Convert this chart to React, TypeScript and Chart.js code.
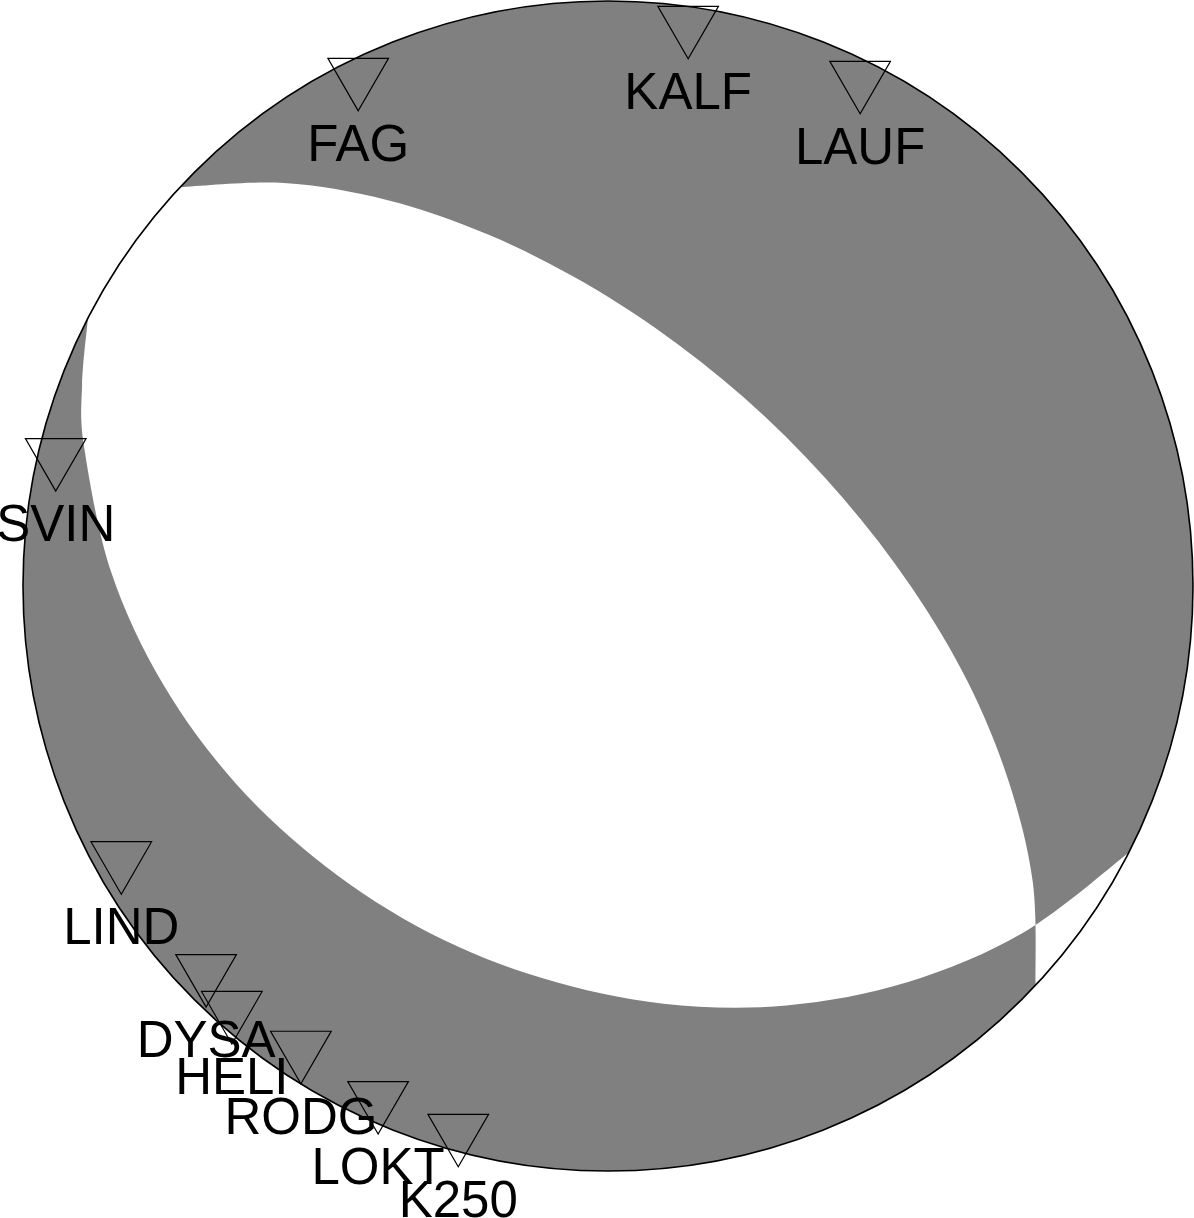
import { useEffect, useRef } from "react";
import { Chart, registerables } from "chart.js";

Chart.register(...registerables);

// Stations (projected position on the unit focal sphere, lower hemisphere)
const stationNames = ["FAG", "KALF", "LAUF", "SVIN", "LIND", "DYSA", "HELI", "RODG", "LOKT", "K250"];
const stationX = [-0.427, 0.137, 0.431, -0.944, -0.832, -0.687, -0.643, -0.525, -0.393, -0.256];
const stationY = [0.872, 0.961, 0.867, 0.222, -0.467, -0.66, -0.723, -0.791, -0.877, -0.933];

// Nodal plane 1 trace (unit-radius projection coordinates)
const plane1X = [-0.731, -0.554, -0.378, -0.205, -0.038, 0.121, 0.269, 0.402, 0.518, 0.614, 0.684, 0.726, 0.731];
const plane1Y = [0.682, 0.689, 0.66, 0.601, 0.517, 0.412, 0.289, 0.15, -0.001, -0.162, -0.331, -0.505, -0.682];

// Nodal plane 2 trace
const plane2X = [0.889, 0.711, 0.513, 0.305, 0.095, -0.11, -0.305, -0.482, -0.636, -0.76, -0.849, -0.895, -0.899, -0.889];
const plane2Y = [-0.457, -0.592, -0.677, -0.717, -0.714, -0.671, -0.593, -0.48, -0.338, -0.169, 0.023, 0.234, 0.344, 0.457];

// Layout (pixels)
const W = 1194;
const H = 1218;
const CX = 608;
const CY = 586;
const RPX = 585;

const GRAY = "#808080";
const FONT = "'Liberation Sans', Arial, Helvetica, sans-serif";

type P = { x: number; y: number };

function smoothPath(ctx: CanvasRenderingContext2D, pts: P[], start: boolean) {
  if (start) ctx.moveTo(pts[0].x, pts[0].y);
  else ctx.lineTo(pts[0].x, pts[0].y);
  for (let i = 0; i < pts.length - 1; i++) {
    const p0 = pts[i - 1] || pts[i];
    const p1 = pts[i];
    const p2 = pts[i + 1];
    const p3 = pts[i + 2] || pts[i + 1];
    ctx.bezierCurveTo(
      p1.x + (p2.x - p0.x) / 6,
      p1.y + (p2.y - p0.y) / 6,
      p2.x - (p3.x - p1.x) / 6,
      p2.y - (p3.y - p1.y) / 6,
      p2.x,
      p2.y
    );
  }
}

export default function App() {
  const ref = useRef<HTMLCanvasElement>(null);

  useEffect(() => {
    const canvas = ref.current;
    if (!canvas) return;

    const beachball = {
      id: "beachball",
      beforeDatasetsDraw(chart: any) {
        const { ctx } = chart;
        const xs = chart.scales.x;
        const ys = chart.scales.y;
        const cx = xs.getPixelForValue(0);
        const cy = ys.getPixelForValue(0);
        const R = xs.getPixelForValue(1) - cx;
        const p1: P[] = plane1X.map((v, i) => ({ x: xs.getPixelForValue(v), y: ys.getPixelForValue(plane1Y[i]) }));
        const p2: P[] = plane2X.map((v, i) => ({ x: xs.getPixelForValue(v), y: ys.getPixelForValue(plane2Y[i]) }));
        const ang = (p: P) => Math.atan2(p.y - cy, p.x - cx);

        ctx.save();
        // compressional (shaded) sphere
        ctx.beginPath();
        ctx.arc(cx, cy, R, 0, Math.PI * 2);
        ctx.fillStyle = GRAY;
        ctx.fill();

        // dilatational (white) lobes bounded by the nodal planes
        ctx.beginPath();
        smoothPath(ctx, p1, true);
        ctx.arc(cx, cy, R, ang(p1[p1.length - 1]), ang(p2[0]), true);
        smoothPath(ctx, p2, false);
        ctx.arc(cx, cy, R, ang(p2[p2.length - 1]), ang(p1[0]), false);
        ctx.closePath();
        ctx.fillStyle = "#ffffff";
        ctx.fill("nonzero");

        // outline
        ctx.beginPath();
        ctx.arc(cx, cy, R, 0, Math.PI * 2);
        ctx.lineWidth = 1.6;
        ctx.strokeStyle = "#000000";
        ctx.stroke();
        ctx.restore();
      },
      afterDatasetsDraw(chart: any) {
        const { ctx } = chart;
        const meta = chart.getDatasetMeta(2);
        ctx.save();
        ctx.font = `51px ${FONT}`;
        ctx.fillStyle = "#000000";
        ctx.textAlign = "center";
        ctx.textBaseline = "alphabetic";
        meta.data.forEach((el: any, i: number) => {
          ctx.fillText(stationNames[i], el.x, el.y + 85);
        });
        ctx.restore();
      },
    };

    const chart = new Chart(canvas, {
      type: "scatter",
      data: {
        datasets: [
          {
            label: "Nodal plane 1",
            data: plane1X.map((x, i) => ({ x, y: plane1Y[i] })),
            pointRadius: 0,
            pointHoverRadius: 0,
            showLine: false,
          },
          {
            label: "Nodal plane 2",
            data: plane2X.map((x, i) => ({ x, y: plane2Y[i] })),
            pointRadius: 0,
            pointHoverRadius: 0,
            showLine: false,
          },
          {
            label: "Stations",
            data: stationX.map((x, i) => ({ x, y: stationY[i] })),
            pointStyle: "triangle",
            rotation: 180,
            pointRadius: 35,
            pointHoverRadius: 35,
            borderColor: "#000000",
            borderWidth: 1.2,
            backgroundColor: "rgba(0,0,0,0)",
            clip: false,
          } as any,
        ],
      },
      options: {
        responsive: false,
        maintainAspectRatio: false,
        animation: false,
        devicePixelRatio: 1,
        events: [],
        layout: { padding: 0, autoPadding: false },
        plugins: {
          legend: { display: false },
          tooltip: { enabled: false },
        },
        scales: {
          x: { type: "linear", display: false, min: -CX / RPX, max: (W - CX) / RPX },
          y: { type: "linear", display: false, min: -(H - CY) / RPX, max: CY / RPX },
        },
      } as any,
      plugins: [beachball],
    });

    return () => chart.destroy();
  }, []);

  return (
    <div style={{ position: "absolute", left: 0, top: 0, width: W, height: H, background: "#ffffff" }}>
      <canvas ref={ref} width={W} height={H} style={{ display: "block" }} />
    </div>
  );
}
